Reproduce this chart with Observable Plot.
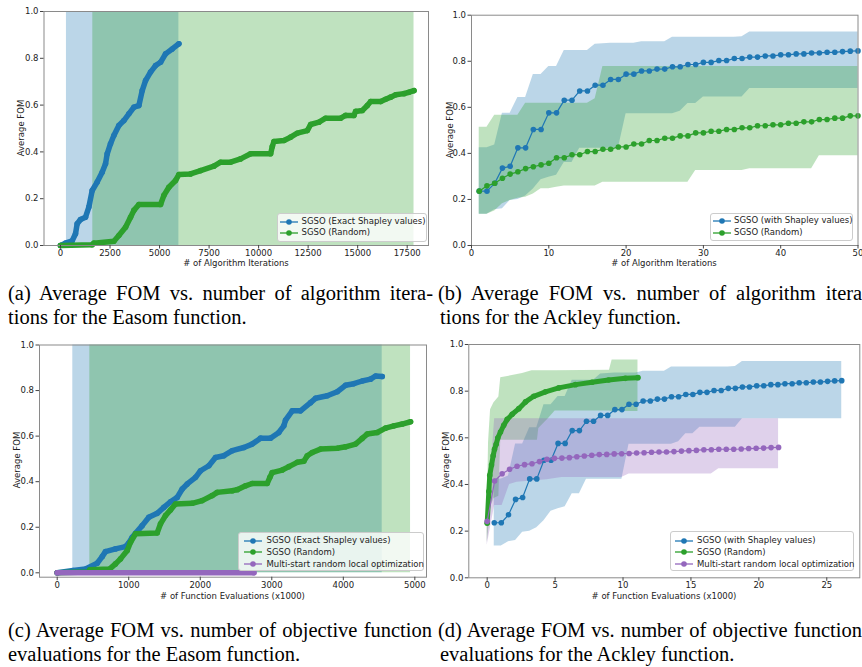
<!DOCTYPE html>
<html><head><meta charset="utf-8">
<script src="https://cdn.jsdelivr.net/npm/d3@7"></script>
<script src="https://cdn.jsdelivr.net/npm/@observablehq/plot@0.6"></script>
<style>
body{margin:0;background:#fff;}
#root{position:relative;width:862px;height:667px;overflow:hidden;}
.panel{position:absolute;}
.lbl{position:absolute;font-family:"DejaVu Sans";font-size:8.5px;color:#222;white-space:nowrap;line-height:9px;}
.cap{position:absolute;font-family:"Liberation Serif";font-size:20.5px;line-height:24px;white-space:pre;color:#000;}
.just{white-space:normal;text-align:justify;text-align-last:justify;word-spacing:0;}
.legend{position:absolute;background:rgba(255,255,255,0.8);border:1px solid #ccc;border-radius:3px;box-sizing:border-box;}
</style></head><body><div id="root"></div><script>
// ---------- data ----------
const BLUE = "#1f77b4", GREEN = "#2ca02c", PURPLE = "#9467bd";
const yTicks = [0, 0.2, 0.4, 0.6, 0.8, 1.0];

// (a) Easom, vs iterations
const aBlueX = [0,253,590,758,842,1010,1263,1431,1600,1852,2104,2273,2357,2525,2694,2946,3199,3451,3704,3956,4125,4293,4545,4798,5051,5303,5640,5976];
const aBlueY = [0,0.01,0.02,0.05,0.093,0.111,0.121,0.164,0.235,0.271,0.313,0.349,0.392,0.435,0.47,0.513,0.534,0.563,0.591,0.598,0.662,0.705,0.741,0.769,0.783,0.819,0.84,0.862];
const aGreenX = [0,1600,1684,2694,2946,3283,3535,3704,3956,5051,5219,5471,5808,5976,6566,7071,7744,8081,8586,9091,9596,10606,10690,10774,11279,11616,11953,12458,12626,13047,13384,14141,14394,14815,14899,15236,15488,15657,16162,16414,16667,16919,17340,17592,17845];
const aGreenY = [0,0.003,0.01,0.018,0.043,0.078,0.121,0.15,0.175,0.175,0.214,0.249,0.278,0.303,0.306,0.32,0.339,0.356,0.356,0.37,0.392,0.392,0.423,0.444,0.449,0.463,0.48,0.491,0.517,0.527,0.544,0.544,0.556,0.556,0.573,0.577,0.598,0.615,0.615,0.625,0.634,0.644,0.649,0.655,0.662];
const aBlueBandX = [300, 5976], aBlueBandLo = [0, 0], aBlueBandHi = [1, 1];
const aGreenBandX = [1630, 17845], aGreenBandLo = [0, 0], aGreenBandHi = [1, 1];
const aXTicks = [0,2500,5000,7500,10000,12500,15000,17500];

// (b) Ackley, vs iterations
const bIter = [1,2,3,4,5,6,7,8,9,10,11,12,13,14,15,16,17,18,19,20,21,22,23,24,25,26,27,28,29,30,31,32,33,34,35,36,37,38,39,40,41,42,43,44,45,46,47,48,49,50];
const bBlueY = [0.236,0.236,0.27,0.336,0.344,0.424,0.424,0.504,0.504,0.576,0.576,0.631,0.631,0.671,0.671,0.696,0.696,0.721,0.721,0.744,0.744,0.758,0.758,0.766,0.766,0.776,0.776,0.786,0.786,0.795,0.795,0.803,0.803,0.812,0.812,0.818,0.818,0.823,0.823,0.828,0.828,0.832,0.832,0.836,0.836,0.839,0.839,0.842,0.844,0.845];
const bBlueHi = [0.424,0.424,0.436,0.574,0.574,0.643,0.643,0.742,0.742,0.777,0.777,0.847,0.847,0.847,0.847,0.874,0.876,0.878,0.878,0.878,0.878,0.885,0.885,0.885,0.885,0.904,0.904,0.904,0.904,0.904,0.904,0.904,0.904,0.904,0.906,0.927,0.927,0.927,0.927,0.927,0.927,0.927,0.927,0.927,0.927,0.927,0.927,0.927,0.927,0.927];
const bBlueLo = [0.136,0.136,0.155,0.16,0.195,0.2,0.215,0.245,0.285,0.296,0.305,0.36,0.36,0.422,0.422,0.422,0.422,0.422,0.422,0.572,0.572,0.572,0.572,0.572,0.572,0.572,0.583,0.617,0.617,0.645,0.645,0.645,0.645,0.645,0.645,0.682,0.682,0.682,0.682,0.682,0.682,0.682,0.682,0.682,0.682,0.682,0.682,0.682,0.682,0.682];
const bGreenY = [0.236,0.259,0.27,0.292,0.31,0.32,0.334,0.342,0.35,0.357,0.381,0.381,0.394,0.394,0.408,0.408,0.418,0.418,0.428,0.428,0.441,0.441,0.456,0.456,0.466,0.466,0.476,0.476,0.489,0.489,0.496,0.496,0.504,0.504,0.511,0.511,0.52,0.52,0.524,0.524,0.531,0.531,0.537,0.537,0.547,0.547,0.553,0.553,0.563,0.563];
const bGreenHi = [0.514,0.514,0.566,0.566,0.566,0.566,0.618,0.618,0.618,0.618,0.618,0.618,0.618,0.618,0.618,0.637,0.777,0.777,0.777,0.777,0.777,0.777,0.777,0.777,0.777,0.777,0.777,0.777,0.777,0.777,0.777,0.777,0.777,0.777,0.777,0.777,0.777,0.777,0.777,0.777,0.777,0.777,0.777,0.777,0.777,0.777,0.777,0.777,0.777,0.777];
const bGreenLo = [0.136,0.136,0.15,0.181,0.195,0.205,0.21,0.224,0.246,0.246,0.253,0.258,0.258,0.258,0.258,0.258,0.275,0.275,0.275,0.275,0.275,0.275,0.275,0.275,0.275,0.275,0.275,0.275,0.326,0.326,0.326,0.326,0.326,0.326,0.326,0.333,0.333,0.333,0.333,0.333,0.333,0.333,0.333,0.333,0.39,0.39,0.39,0.39,0.39,0.39];
const bXTicks = [0,10,20,30,40,50];

// (c) Easom, vs function evaluations (x1000)
const cBlueX = [0,223,396,559,629,675,815,955,1001,1049,1095,1188,1281,1398,1491,1584,1678,1748,1818,1934,2004,2120,2213,2330,2447,2610,2726,2843,2982,3099,3168,3192,3286,3402,3542,3612,3775,3915,4031,4147,4264,4381,4451,4544];
const cBlueY = [0,0.01,0.017,0.042,0.071,0.093,0.105,0.115,0.131,0.156,0.173,0.207,0.244,0.261,0.287,0.312,0.331,0.368,0.39,0.419,0.448,0.47,0.506,0.514,0.536,0.55,0.565,0.591,0.591,0.616,0.645,0.67,0.711,0.711,0.747,0.766,0.777,0.795,0.823,0.83,0.842,0.85,0.864,0.862];
const cGreenX = [0,440,456,735,815,885,979,1025,1095,1398,1444,1514,1584,1654,1888,2027,2167,2237,2447,2517,2633,2726,2936,2973,3006,3146,3239,3356,3449,3496,3565,3682,3915,4031,4171,4264,4334,4474,4590,4707,4824,4940];
const cGreenY = [0,0.003,0.013,0.017,0.039,0.061,0.098,0.134,0.171,0.175,0.215,0.251,0.276,0.302,0.305,0.317,0.339,0.353,0.36,0.365,0.382,0.392,0.392,0.419,0.44,0.451,0.466,0.485,0.49,0.514,0.528,0.543,0.547,0.553,0.565,0.59,0.609,0.616,0.635,0.645,0.653,0.663];
const cPurpleX = [0, 2750], cPurpleY = [0, 0];
const cBlueBandX = [218, 4544], cBlueBandLo = [0, 0], cBlueBandHi = [1, 1];
const cGreenBandX = [456, 4940], cGreenBandLo = [0, 0], cGreenBandHi = [1, 1];
const cXTicks = [0,1000,2000,3000,4000,5000];

// (d) Ackley, vs function evaluations (x1000)
const dBlueX = [0.52,1.04,1.57,2.09,2.61,3.13,3.65,4.18,4.70,5.22,5.74,6.26,6.79,7.31,7.83,8.35,8.87,9.40,9.92,10.44,10.96,11.48,12.01,12.53,13.05,13.57,14.09,14.62,15.14,15.66,16.18,16.70,17.23,17.75,18.27,18.79,19.31,19.84,20.36,20.88,21.40,21.92,22.45,22.97,23.49,24.01,24.53,25.06,25.58,26.10];
const dGreenX = [0,0.12,0.19,0.32,0.44,0.54,0.66,0.78,0.98,1.22,1.47,1.84,2.33,2.82,3.43,4.29,5.27,6.5,7.72,8.94,10.17,11.1];
const dGreenY = [0.234,0.37,0.439,0.483,0.523,0.551,0.572,0.599,0.625,0.654,0.679,0.701,0.725,0.754,0.778,0.797,0.814,0.828,0.838,0.848,0.855,0.858];
const dGreenBandX  = [0,0.1,0.25,0.5,0.86,1.0,2.6,3.3,3.7,3.8,4.5,5.0,9.0,9.2,11.1];
const dGreenBandHi = [0.24,0.58,0.72,0.75,0.775,0.857,0.876,0.887,0.887,0.887,0.887,0.887,0.89,0.934,0.934];
const dGreenBandLo = [0.15,0.2,0.3,0.34,0.35,0.59,0.59,0.59,0.59,0.64,0.682,0.715,0.715,0.713,0.713];
const dPurpleX = [0,0.55,1.10,1.65,2.20,2.75,3.30,3.85,4.40,4.95,5.50,6.05,6.60,7.15,7.70,8.25,8.80,9.35,9.90,10.45,11.00,11.55,12.10,12.65,13.20,13.75,14.30,14.85,15.40,15.95,16.50,17.05,17.60,18.15,18.70,19.25,19.80,20.35,20.90,21.45];
const dPurpleY = [0.242,0.415,0.446,0.465,0.478,0.485,0.489,0.498,0.508,0.512,0.513,0.515,0.519,0.522,0.525,0.528,0.529,0.531,0.532,0.533,0.535,0.536,0.538,0.539,0.539,0.541,0.543,0.545,0.546,0.549,0.549,0.551,0.551,0.551,0.552,0.554,0.555,0.556,0.558,0.559];
const dPurpleBandX  = [0,0.55,1.1,1.65,2.2,4.4,5.5,9.9,10.45,16.5,17.05,21.45];
const dPurpleBandHi = [0.24,0.682,0.682,0.682,0.682,0.682,0.682,0.682,0.682,0.682,0.682,0.682];
const dPurpleBandLo = [0.14,0.31,0.31,0.40,0.41,0.42,0.43,0.43,0.445,0.445,0.467,0.467];
const dXTicks = [0,5,10,15,20,25];

// ---------- helpers ----------
const zip = (xs, ys) => xs.map((x, i) => ({x, y: ys[i]}));
const zipBand = (xs, lo, hi) => xs.map((x, i) => ({x, lo: lo[i], hi: hi[i]}));
const root = document.getElementById("root");

function makePanel(cfg) {
  const {left, top, width, height, frame, xdom, ydom, xticks, bands, series} = cfg;
  const ml = frame[0] - left, mr = left + width - frame[1], mt = frame[2] - top, mb = top + height - frame[3];
  const marks = [];
  for (const b of bands) marks.push(Plot.areaY(b.data, {x: "x", y1: "lo", y2: "hi", fill: b.color, fillOpacity: 0.3, curve: "linear"}));
  for (const s of series) {
    marks.push(Plot.line(s.data, {x: "x", y: "y", stroke: s.color, strokeWidth: s.lw, strokeLinejoin: "round", strokeLinecap: "round"}));
    marks.push(Plot.dot(s.data, {x: "x", y: "y", fill: s.color, r: s.r}));
  }
  marks.push(Plot.frame({stroke: "#8a8a8a", strokeWidth: 1}));
  marks.push(Plot.axisX({ticks: xticks, tickSize: 3.5, tickPadding: 1, tickFormat: d => String(d), label: null, stroke: "#444"}));
  marks.push(Plot.axisY({ticks: yTicks, tickSize: 3.5, tickPadding: 2, tickFormat: d => d.toFixed(1), label: null, stroke: "#444"}));
  const svg = Plot.plot({
    width, height, marginLeft: ml, marginRight: mr, marginTop: mt, marginBottom: mb,
    x: {domain: xdom}, y: {domain: ydom},
    style: {fontFamily: "DejaVu Sans", fontSize: "8.5px", color: "#222", background: "transparent", overflow: "visible"},
    marks
  });
  const wrap = document.createElement("div");
  wrap.className = "panel";
  wrap.style.left = left + "px"; wrap.style.top = top + "px";
  wrap.appendChild(svg);
  root.appendChild(wrap);
}

function label(text, cx, cy, rotate) {
  const d = document.createElement("div");
  d.className = "lbl"; d.textContent = text;
  d.style.left = cx + "px"; d.style.top = cy + "px";
  d.style.transform = "translate(-50%,-50%)" + (rotate ? " rotate(-90deg)" : "");
  root.appendChild(d);
}

function legend(box, entries) {
  const b = document.createElement("div");
  b.className = "legend";
  b.style.left = box.x + "px"; b.style.top = box.y + "px";
  b.style.width = box.w + "px"; b.style.height = box.h + "px";
  root.appendChild(b);
  entries.forEach((e, i) => {
    const cy = box.rows[i];
    const ns = "http://www.w3.org/2000/svg";
    const s = document.createElementNS(ns, "svg");
    s.setAttribute("width", 20); s.setAttribute("height", 8);
    s.style.position = "absolute"; s.style.left = box.hx + "px"; s.style.top = (cy - 4) + "px";
    const ln = document.createElementNS(ns, "line");
    ln.setAttribute("x1", 1); ln.setAttribute("x2", 19); ln.setAttribute("y1", 4); ln.setAttribute("y2", 4);
    ln.setAttribute("stroke", e.color); ln.setAttribute("stroke-width", 1.3);
    const c = document.createElementNS(ns, "circle");
    c.setAttribute("cx", 10); c.setAttribute("cy", 4); c.setAttribute("r", 2.8); c.setAttribute("fill", e.color);
    s.appendChild(ln); s.appendChild(c);
    root.appendChild(s);
    const t = document.createElement("div");
    t.className = "lbl"; t.textContent = e.text;
    t.style.left = box.tx + "px"; t.style.top = (cy - 4.5) + "px";
    root.appendChild(t);
  });
}

function caption(text, x, y, width) {
  const d = document.createElement("div");
  d.className = "cap" + (width ? " just" : ""); d.textContent = text;
  d.style.left = x + "px"; d.style.top = y + "px";
  if (width) d.style.width = width + "px";
  root.appendChild(d);
}

// ---------- panels ----------
makePanel({
  left: 0, top: 0, width: 431, height: 270, frame: [43.5, 428, 11, 245],
  xdom: [-833, 18576], ydom: [0, 1], xticks: aXTicks,
  bands: [
    {data: zipBand(aBlueBandX, aBlueBandLo, aBlueBandHi), color: BLUE},
    {data: zipBand(aGreenBandX, aGreenBandLo, aGreenBandHi), color: GREEN}
  ],
  series: [
    {data: zip(aBlueX, aBlueY), color: BLUE, lw: 5.5, r: 2.8},
    {data: zip(aGreenX, aGreenY), color: GREEN, lw: 5.5, r: 2.8}
  ]
});
makePanel({
  left: 431, top: 0, width: 431, height: 270, frame: [471, 857.5, 14.7, 245],
  xdom: [0, 50], ydom: [0, 1], xticks: bXTicks,
  bands: [
    {data: zipBand(bIter, bBlueLo, bBlueHi), color: BLUE},
    {data: zipBand(bIter, bGreenLo, bGreenHi), color: GREEN}
  ],
  series: [
    {data: zip(bIter, bBlueY), color: BLUE, lw: 1.2, r: 2.8},
    {data: zip(bIter, bGreenY), color: GREEN, lw: 1.2, r: 2.8}
  ]
});
makePanel({
  left: 0, top: 330, width: 431, height: 280, frame: [39, 426, 344.5, 576.7],
  xdom: [-247.5, 5163], ydom: [-0.0193, 1], xticks: cXTicks,
  bands: [
    {data: zipBand(cBlueBandX, cBlueBandLo, cBlueBandHi), color: BLUE},
    {data: zipBand(cGreenBandX, cGreenBandLo, cGreenBandHi), color: GREEN}
  ],
  series: [
    {data: zip(cBlueX, cBlueY), color: BLUE, lw: 5.5, r: 2.8},
    {data: zip(cGreenX, cGreenY), color: GREEN, lw: 5.5, r: 2.8},
    {data: zip(cPurpleX, cPurpleY), color: PURPLE, lw: 5.5, r: 2.8}
  ]
});
makePanel({
  left: 431, top: 330, width: 431, height: 280, frame: [468.3, 859.3, 344, 577.3],
  xdom: [-1.353, 27.43], ydom: [0, 1], xticks: dXTicks,
  bands: [
    {data: zipBand(dBlueX, bBlueLo, bBlueHi), color: BLUE},
    {data: zipBand(dGreenBandX, dGreenBandLo, dGreenBandHi), color: GREEN},
    {data: zipBand(dPurpleBandX, dPurpleBandLo, dPurpleBandHi), color: PURPLE}
  ],
  series: [
    {data: zip(dBlueX, bBlueY), color: BLUE, lw: 1.2, r: 2.8},
    {data: zip(dGreenX, dGreenY), color: GREEN, lw: 5, r: 2.8},
    {data: zip(dPurpleX, dPurpleY), color: PURPLE, lw: 1.2, r: 2.8}
  ]
});

// ---------- axis labels ----------
label("# of Algorithm Iterations", 236, 263);
label("Average FOM", 20.5, 128, true);
label("# of Algorithm Iterations", 664, 263);
label("Average FOM", 449.5, 130, true);
label("# of Function Evaluations (x1000)", 232.5, 596);
label("Average FOM", 16.5, 460, true);
label("# of Function Evaluations (x1000)", 664, 596);
label("Average FOM", 446, 460, true);

// ---------- legends ----------
legend({x: 277, y: 213, w: 150, h: 29, hx: 279, tx: 301.5, rows: [221.5, 232.5]},
  [{text: "SGSO (Exact Shapley values)", color: BLUE}, {text: "SGSO (Random)", color: GREEN}]);
legend({x: 710, y: 213, w: 143, h: 28, hx: 711.5, tx: 734, rows: [220.5, 232.5]},
  [{text: "SGSO (with Shapley values)", color: BLUE}, {text: "SGSO (Random)", color: GREEN}]);
legend({x: 238, y: 531.5, w: 186, h: 39, hx: 243, tx: 266.5, rows: [540.5, 552, 564]},
  [{text: "SGSO (Exact Shapley values)", color: BLUE}, {text: "SGSO (Random)", color: GREEN}, {text: "Multi-start random local optimization", color: PURPLE}]);
legend({x: 670, y: 531, w: 184, h: 39.5, hx: 674, tx: 697, rows: [540.5, 552, 564]},
  [{text: "SGSO (with Shapley values)", color: BLUE}, {text: "SGSO (Random)", color: GREEN}, {text: "Multi-start random local optimization", color: PURPLE}]);

// ---------- captions ----------
caption("(a) Average FOM vs.  number of algorithm itera-", 8, 281, 425);
caption("tions for the Easom function.", 8, 305);
caption("(b) Average FOM vs.  number of algorithm itera-", 438, 281, 431);
caption("tions for the Ackley function.", 440, 305);
caption("(c) Average FOM vs.  number of objective function", 8, 618, 424);
caption("evaluations for the Easom function.", 8, 642);
caption("(d) Average FOM vs.  number of objective function", 438, 618, 424);
caption("evaluations for the Ackley function.", 440, 642);
</script></body></html>
